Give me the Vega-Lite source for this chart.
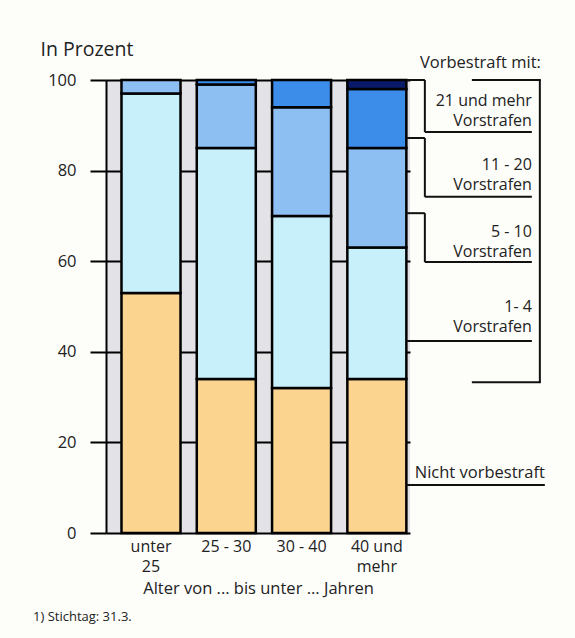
{
  "$schema": "https://vega.github.io/schema/vega-lite/v6.json",
  "width": 304,
  "height": 453,
  "autosize": {"type": "none"},
  "padding": {"left": 106, "top": 80, "right": 165, "bottom": 105},
  "background": "#fdfdfa",
  "config": {"font": "Open Sans", "view": {"fill": "#e3e2e6", "stroke": null}},
  "title": {"text": "1) Stichtag: 31.3.", "orient": "bottom", "anchor": "start", "frame": "group", "dx": -73, "offset": 14, "fontSize": 13, "fontWeight": "normal", "color": "#222"},
  "datasets": {
    "bars": [
      {"age": "unter 25", "group": "Nicht vorbestraft", "k": 1, "pct": 53},
      {"age": "unter 25", "group": "1 - 4", "k": 2, "pct": 44},
      {"age": "unter 25", "group": "5 - 10", "k": 3, "pct": 3},
      {"age": "25 - 30", "group": "Nicht vorbestraft", "k": 1, "pct": 34},
      {"age": "25 - 30", "group": "1 - 4", "k": 2, "pct": 51},
      {"age": "25 - 30", "group": "5 - 10", "k": 3, "pct": 14},
      {"age": "25 - 30", "group": "11 - 20", "k": 4, "pct": 1},
      {"age": "30 - 40", "group": "Nicht vorbestraft", "k": 1, "pct": 32},
      {"age": "30 - 40", "group": "1 - 4", "k": 2, "pct": 38},
      {"age": "30 - 40", "group": "5 - 10", "k": 3, "pct": 24},
      {"age": "30 - 40", "group": "11 - 20", "k": 4, "pct": 6},
      {"age": "40 und mehr", "group": "Nicht vorbestraft", "k": 1, "pct": 34},
      {"age": "40 und mehr", "group": "1 - 4", "k": 2, "pct": 29},
      {"age": "40 und mehr", "group": "5 - 10", "k": 3, "pct": 22},
      {"age": "40 und mehr", "group": "11 - 20", "k": 4, "pct": 13},
      {"age": "40 und mehr", "group": "21 und mehr", "k": 5, "pct": 2}
    ],
    "brk": [
      {"seg": "h1", "pct": 100},
      {"seg": "h1", "pct": 87.2},
      {"seg": "h1", "pct": 70.6},
      {"seg": "h2", "pct": 88.5},
      {"seg": "h2", "pct": 74.2},
      {"seg": "h2", "pct": 59.8},
      {"seg": "h3", "pct": 42.4},
      {"seg": "h4", "pct": 10.6},
      {"seg": "h5", "pct": 100},
      {"seg": "h5", "pct": 33.3},
      {"seg": "v1", "pct": 100, "pct2": 88.5},
      {"seg": "v1", "pct": 87.2, "pct2": 74.2},
      {"seg": "v1", "pct": 70.6, "pct2": 59.8},
      {"seg": "v2", "pct": 100, "pct2": 33.3}
    ],
    "notes": [
      {"label": "21 und mehr\nVorstrafen", "pct": 94.3},
      {"label": "11 - 20\nVorstrafen", "pct": 80.1},
      {"label": "5 - 10\nVorstrafen", "pct": 65.3},
      {"label": "1- 4\nVorstrafen", "pct": 48.8}
    ]
  },
  "layer": [
    {
      "data": {"name": "bars"},
      "mark": {"type": "bar", "stroke": "#000", "strokeWidth": 2.5},
      "encoding": {
        "x": {
          "field": "age", "type": "nominal",
          "sort": ["unter 25", "25 - 30", "30 - 40", "40 und mehr"],
          "scale": {"paddingInner": 0.216, "paddingOuter": 0.127, "align": 0.81},
          "axis": {
            "title": "Alter von ... bis unter ... Jahren",
            "domain": false, "ticks": false, "grid": false, "labelAngle": 0,
            "labelFontSize": 16, "labelColor": "#222", "labelPadding": 5, "labelLineHeight": 20,
            "labelExpr": "datum.value == 'unter 25' ? ['unter', '25'] : datum.value == '40 und mehr' ? ['40 und', 'mehr'] : datum.value",
            "titleFontSize": 16.5, "titleFontWeight": "normal", "titleColor": "#222", "titlePadding": 6
          }
        },
        "y": {
          "field": "pct", "type": "quantitative", "stack": "zero",
          "scale": {"domain": [0, 100], "nice": false},
          "axis": {
            "values": [0, 20, 40, 60, 80, 100],
            "grid": true, "gridColor": "#000", "gridWidth": 2, "gridOpacity": 1,
            "domain": true, "domainColor": "#000", "domainWidth": 2,
            "ticks": true, "tickColor": "#000", "tickWidth": 2, "tickSize": 16,
            "labelFontSize": 16.5, "labelColor": "#222", "labelPadding": 14, "labelFlush": false,
            "title": "In Prozent", "titleAngle": 0, "titleX": -66, "titleY": -25,
            "titleAlign": "left", "titleBaseline": "alphabetic", "titleFontSize": 19.5,
            "titleFontWeight": "normal", "titleColor": "#222"
          }
        },
        "color": {
          "field": "group", "type": "nominal",
          "scale": {
            "domain": ["Nicht vorbestraft", "1 - 4", "5 - 10", "11 - 20", "21 und mehr"],
            "range": ["#fbd590", "#c8f0fb", "#8ebff3", "#3b8de9", "#0a1a6b"]
          },
          "legend": null
        },
        "order": {"field": "k", "type": "quantitative"}
      }
    },
    {
      "data": {"name": "brk"},
      "transform": [{"filter": "datum.seg == 'h1'"}],
      "mark": {"type": "rule", "stroke": "#111", "strokeWidth": 2, "xOffset": 30, "x2Offset": 48},
      "encoding": {"x": {"datum": "40 und mehr"}, "x2": {"datum": "40 und mehr"}, "y": {"field": "pct", "type": "quantitative"}}
    },
    {
      "data": {"name": "brk"},
      "transform": [{"filter": "datum.seg == 'h2'"}],
      "mark": {"type": "rule", "stroke": "#111", "strokeWidth": 2, "xOffset": 48, "x2Offset": 155},
      "encoding": {"x": {"datum": "40 und mehr"}, "x2": {"datum": "40 und mehr"}, "y": {"field": "pct", "type": "quantitative"}}
    },
    {
      "data": {"name": "brk"},
      "transform": [{"filter": "datum.seg == 'h3'"}],
      "mark": {"type": "rule", "stroke": "#111", "strokeWidth": 2, "xOffset": 30, "x2Offset": 155},
      "encoding": {"x": {"datum": "40 und mehr"}, "x2": {"datum": "40 und mehr"}, "y": {"field": "pct", "type": "quantitative"}}
    },
    {
      "data": {"name": "brk"},
      "transform": [{"filter": "datum.seg == 'h4'"}],
      "mark": {"type": "rule", "stroke": "#111", "strokeWidth": 2, "xOffset": 30, "x2Offset": 168},
      "encoding": {"x": {"datum": "40 und mehr"}, "x2": {"datum": "40 und mehr"}, "y": {"field": "pct", "type": "quantitative"}}
    },
    {
      "data": {"name": "brk"},
      "transform": [{"filter": "datum.seg == 'h5'"}],
      "mark": {"type": "rule", "stroke": "#111", "strokeWidth": 2, "xOffset": 95, "x2Offset": 164},
      "encoding": {"x": {"datum": "40 und mehr"}, "x2": {"datum": "40 und mehr"}, "y": {"field": "pct", "type": "quantitative"}}
    },
    {
      "data": {"name": "brk"},
      "transform": [{"filter": "datum.seg == 'v1'"}],
      "mark": {"type": "rule", "stroke": "#111", "strokeWidth": 2, "xOffset": 48},
      "encoding": {"x": {"datum": "40 und mehr"}, "y": {"field": "pct", "type": "quantitative"}, "y2": {"field": "pct2"}}
    },
    {
      "data": {"name": "brk"},
      "transform": [{"filter": "datum.seg == 'v2'"}],
      "mark": {"type": "rule", "stroke": "#111", "strokeWidth": 2, "xOffset": 163},
      "encoding": {"x": {"datum": "40 und mehr"}, "y": {"field": "pct", "type": "quantitative"}, "y2": {"field": "pct2"}}
    },
    {
      "data": {"name": "notes"},
      "mark": {"type": "text", "align": "right", "baseline": "alphabetic", "lineBreak": "\n", "lineHeight": 20, "fontSize": 16, "color": "#222", "xOffset": 155},
      "encoding": {"x": {"datum": "40 und mehr"}, "y": {"field": "pct", "type": "quantitative"}, "text": {"field": "label"}}
    },
    {
      "data": {"values": [{"label": "Vorbestraft mit:", "pct": 102.6}]},
      "mark": {"type": "text", "align": "right", "baseline": "alphabetic", "fontSize": 16.5, "color": "#222", "xOffset": 164},
      "encoding": {"x": {"datum": "40 und mehr"}, "y": {"field": "pct", "type": "quantitative"}, "text": {"field": "label"}}
    },
    {
      "data": {"values": [{"label": "Nicht vorbestraft", "pct": 12.1}]},
      "mark": {"type": "text", "align": "right", "baseline": "alphabetic", "fontSize": 16.5, "color": "#222", "xOffset": 168},
      "encoding": {"x": {"datum": "40 und mehr"}, "y": {"field": "pct", "type": "quantitative"}, "text": {"field": "label"}}
    }
  ]
}
